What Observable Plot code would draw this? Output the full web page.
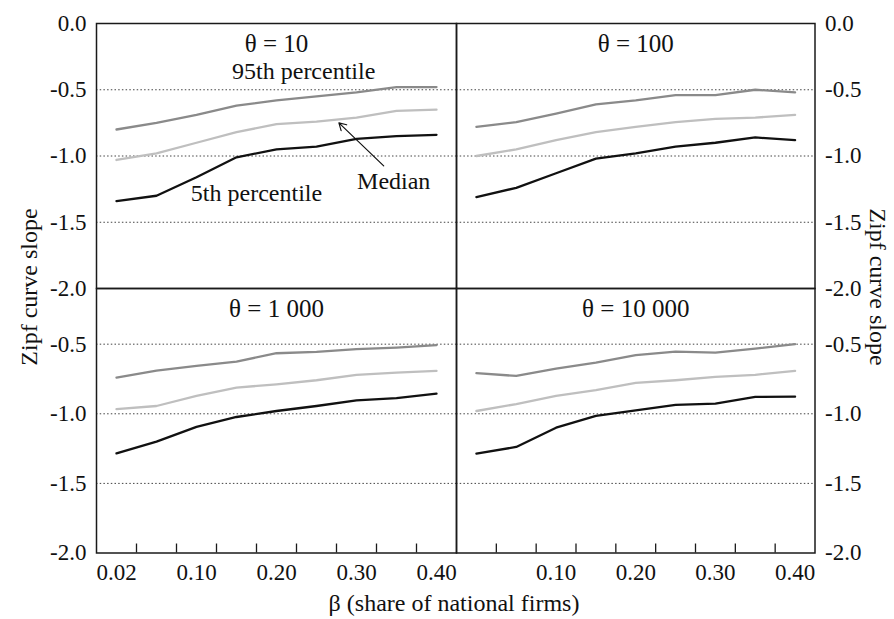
<!DOCTYPE html>
<html><head><meta charset="utf-8">
<script src="https://cdn.jsdelivr.net/npm/d3@7"></script>
<script src="https://cdn.jsdelivr.net/npm/@observablehq/plot@0.6"></script>
<style>
body{margin:0;background:#fff;}
#chart{position:relative;width:894px;height:619px;font-family:"Liberation Serif","Times New Roman",serif;color:#111;overflow:hidden;}
.lbl{position:absolute;font-size:24px;white-space:nowrap;transform:translate(-50%,-50%);line-height:1;font-family:"Liberation Serif","Times New Roman",serif;color:#111;}
</style></head><body><div id="chart"></div>
<script>
// categories (β, share of national firms)
const betas = ["0.02","0.05","0.10","0.15","0.20","0.25","0.30","0.35","0.40"];
const seriesNames = ["95th percentile","Median","5th percentile"];
const panelTitles = ["θ = 10","θ = 100","θ = 1 000","θ = 10 000"];

// θ = 10
const p95_t10 = [-0.80,-0.75,-0.69,-0.62,-0.58,-0.55,-0.52,-0.48,-0.48];
const med_t10 = [-1.03,-0.98,-0.90,-0.82,-0.76,-0.74,-0.71,-0.66,-0.65];
const p5_t10  = [-1.34,-1.30,-1.16,-1.01,-0.95,-0.93,-0.87,-0.85,-0.84];
// θ = 100
const p95_t100 = [-0.78,-0.745,-0.68,-0.61,-0.58,-0.54,-0.54,-0.50,-0.52];
const med_t100 = [-1.00,-0.95,-0.88,-0.82,-0.78,-0.745,-0.72,-0.71,-0.69];
const p5_t100  = [-1.31,-1.24,-1.13,-1.02,-0.98,-0.93,-0.90,-0.86,-0.88];
// θ = 1 000
const p95_t1000 = [-0.74,-0.69,-0.656,-0.625,-0.565,-0.555,-0.536,-0.524,-0.507];
const med_t1000 = [-0.967,-0.944,-0.872,-0.812,-0.788,-0.759,-0.721,-0.704,-0.692];
const p5_t1000  = [-1.284,-1.20,-1.094,-1.023,-0.98,-0.944,-0.903,-0.888,-0.855];
// θ = 10 000
const p95_t10000 = [-0.708,-0.728,-0.675,-0.632,-0.579,-0.553,-0.56,-0.532,-0.50];
const med_t10000 = [-0.98,-0.93,-0.872,-0.83,-0.778,-0.759,-0.735,-0.72,-0.692];
const p5_t10000  = [-1.286,-1.238,-1.10,-1.015,-0.975,-0.936,-0.927,-0.879,-0.877];

// axis ticks
const yTicksTop = [0,-0.5,-1,-1.5,-2];
const yTicksBottom = [-0.5,-1,-1.5,-2];
const gridValues = [-0.5,-1,-1.5];
const xLabelIdxLeft = [0,2,4,6,8];
const xLabelIdxRight = [2,4,6,8];

const yAxisTitle = "Zipf curve slope";
const xAxisTitle = "β (share of national firms)";

// annotation (θ = 10 panel), in data units (x = β index, y = slope)
const annotLabels = [
  {text:"95th percentile", i:4.68, v:-0.36},
  {text:"Median", i:6.93, v:-1.19},
  {text:"5th percentile", i:3.5, v:-1.28}
];
const annotArrow = [{i1:6.68, v1:-1.075, i2:5.56, v2:-0.75}];

const W = 894, H = 619;
const colors = ["#8a8a8a","#bfbfbf","#111111"];
const font = "Liberation Serif, Times New Roman, serif";

function rows(a,b,c){
  const arrs=[a,b,c];
  return seriesNames.flatMap((s,k)=>arrs[k].map((v,i)=>({i,v,s})));
}

const panels = [
  {title:panelTitles[0], data:rows(p95_t10,med_t10,p5_t10), left:96, right:456, top:23, bottom:288, yDomain:[-2,0], yTicks:yTicksTop, yAnchor:"left", xLabels:null, annot:true},
  {title:panelTitles[1], data:rows(p95_t100,med_t100,p5_t100), left:456, right:814.5, top:23, bottom:288, yDomain:[-2,0], yTicks:yTicksTop, yAnchor:"right", xLabels:null},
  {title:panelTitles[2], data:rows(p95_t1000,med_t1000,p5_t1000), left:96, right:456, top:288, bottom:552.5, yDomain:[-2,-0.1], yTicks:yTicksBottom, yAnchor:"left", xLabels:xLabelIdxLeft},
  {title:panelTitles[3], data:rows(p95_t10000,med_t10000,p5_t10000), left:456, right:814.5, top:288, bottom:552.5, yDomain:[-2,-0.1], yTicks:yTicksBottom, yAnchor:"right", xLabels:xLabelIdxRight}
];

const chart = document.getElementById("chart");
const boundaries = d3.range(0.5, betas.length - 1, 1);

for (const p of panels) {
  const ph = p.bottom - p.top;
  const marks = [
    Plot.ruleY(gridValues, {stroke:"#444", strokeWidth:1, strokeDasharray:"1.5,2.2"}),
    Plot.line(p.data, {x:"i", y:"v", z:"s", stroke:"s", strokeWidth:2.3, strokeLinejoin:"round"}),
    Plot.frame({stroke:"#1a1a1a", strokeWidth:1.5}),
    Plot.text([p.title], {frameAnchor:"top", dy:20, lineAnchor:"middle", fontSize:25, fontFamily:font, fill:"#111"}),
    Plot.axisY({anchor:p.yAnchor, ticks:p.yTicks, tickSize:0, tickPadding:10, tickFormat:d=>d.toFixed(1), label:null, fontSize:23, fontFamily:font})
  ];
  if (p.xLabels) {
    marks.push(Plot.tickX(boundaries, {x:d=>d, insetTop:ph-9, stroke:"#1a1a1a", strokeWidth:1.3}));
    marks.push(Plot.axisX({anchor:"bottom", ticks:p.xLabels, tickSize:0, tickPadding:11, tickFormat:i=>betas[i], label:null, fontSize:23, fontFamily:font}));
  }
  if (p.annot) {
    marks.push(Plot.text(annotLabels, {x:"i", y:"v", text:"text", fontSize:24, fontFamily:font, fill:"#111"}));
    marks.push(Plot.arrow(annotArrow, {x1:"i1", y1:"v1", x2:"i2", y2:"v2", stroke:"#111", strokeWidth:1.2, headLength:10}));
  }
  const svg = Plot.plot({
    width:W, height:H,
    marginLeft:p.left, marginRight:W-p.right, marginTop:p.top, marginBottom:H-p.bottom,
    x:{type:"linear", domain:[-0.5, betas.length-0.5], axis:null},
    y:{type:"linear", domain:p.yDomain, axis:null},
    color:{domain:seriesNames, range:colors},
    style:{position:"absolute", left:"0px", top:"0px", background:"transparent", fontFamily:font, fontSize:"23px", color:"#111", maxWidth:"none", overflow:"visible"},
    marks
  });
  chart.appendChild(svg);
}

function addLabel(text, x, y, rot){
  const d = document.createElement("div");
  d.className = "lbl";
  d.textContent = text;
  d.style.left = x + "px";
  d.style.top = y + "px";
  if (rot) d.style.transform = `translate(-50%,-50%) rotate(${rot}deg)`;
  chart.appendChild(d);
}
addLabel(yAxisTitle, 29, 287, -90);
addLabel(yAxisTitle, 878, 287, 90);
addLabel(xAxisTitle, 454, 603, 0);
</script></body></html>
